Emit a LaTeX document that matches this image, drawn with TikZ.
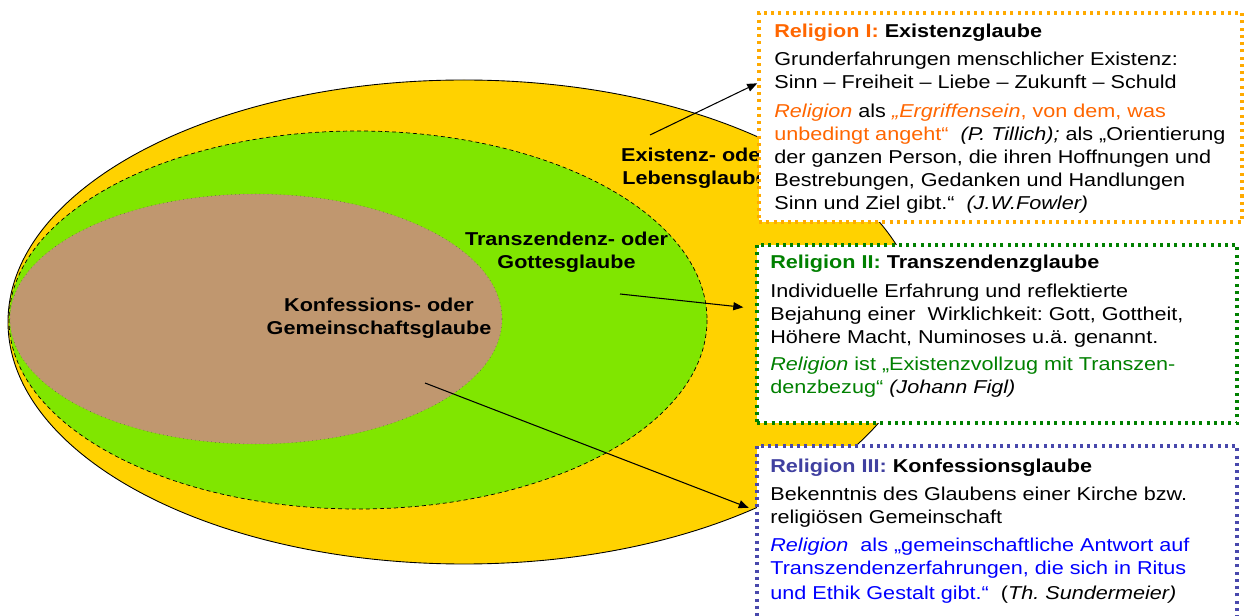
\documentclass[tikz,border=0pt]{standalone}
\usepackage{fontspec}
\setmainfont{Liberation Sans}[FakeStretch=1.16]
\usetikzlibrary{arrows.meta}
\frenchspacing

\definecolor{ringyellow}{RGB}{255,210,0}
\definecolor{ringgreen}{RGB}{128,230,0}
\definecolor{ringbrown}{RGB}{192,151,111}
\definecolor{relorange}{RGB}{255,102,0}
\definecolor{relorangeline}{RGB}{255,170,0}
\definecolor{relgreen}{RGB}{0,128,0}
\definecolor{relslate}{RGB}{64,64,160}
\definecolor{relslateline}{RGB}{72,72,172}
\definecolor{relblue}{RGB}{0,0,255}

\begin{document}
\begin{tikzpicture}[x=0.2mm, y=-0.2mm,
  every node/.style={font=\fontsize{10.6}{13.1}\selectfont, inner sep=0pt},
  ringlabel/.style={align=center, anchor=north, font=\fontsize{10.6}{13.1}\selectfont\bfseries},
  infobox/.style={rectangle, fill=white, line width=0.7mm, dash pattern=on 0.6mm off 0.85mm},
  infotext/.style={align=left, anchor=north west},
  pointer/.style={-{Triangle[length=2mm, width=1.6mm]}, line width=0.6pt}]
  \useasboundingbox (0, 0) rectangle (1251, 616);
  \clip (0, 0) rectangle (1251, 616);

  % rings
  \draw[fill=ringyellow, line width=0.5pt] (464, 322) ellipse [x radius=456, y radius=242];
  \draw[fill=ringgreen, line width=0.4pt, dash pattern=on 0.8mm off 0.6mm] (358, 320) ellipse [x radius=349, y radius=189];
  \draw[fill=ringbrown, line width=0.3pt, draw=black!70, dotted] (256, 319) ellipse [x radius=246, y radius=125];

  \node[ringlabel] (exist) at (695, 147.5) {Existenz- oder\\Lebensglaube};
  \node[ringlabel] (trans) at (566.5, 231.5) {Transzendenz- oder\\Gottesglaube};
  \node[ringlabel] (konf) at (379, 297.5) {Konfessions- oder\\Gemeinschaftsglaube};

  \coordinate (existfrom) at (650, 135);
  \coordinate (transfrom) at (620, 294);
  \coordinate (konffrom) at (425, 383);

  % boxes
  \node[infobox, draw=relorangeline, minimum width=96.6mm, minimum height=41.8mm] (box1) at (1000.5, 117.5) {};
  \node[infobox, draw=relgreen, minimum width=96mm, minimum height=35.6mm] (box2) at (997, 334) {};
  \node[infobox, draw=relslateline, minimum width=96mm, minimum height=42.8mm] (box3) at (997, 553) {};

  \draw[pointer] (existfrom) -- (box1.172);
  \draw[pointer, shorten >=2.4mm] (transfrom) -- (box2.174.8);
  \draw[pointer, shorten >=1.4mm] (konffrom) -- (box3.170.5);

  \node[infotext] (text1) at (774, 23.7) {%
    {\bfseries\textcolor{relorange}{Religion I:} Existenzglaube}\\[1mm]
    Grunderfahrungen menschlicher Existenz:\\
    Sinn – Freiheit – Liebe – Zukunft – Schuld\\[1.2mm]
    \textcolor{relorange}{\textit{Religion}} als \textcolor{relorange}{\textit{„Ergriffensein}, von dem, was}\\
    \textcolor{relorange}{unbedingt angeht“}\ \ \textit{(P. Tillich);} als „Orientierung\\
    der ganzen Person, die ihren Hoffnungen und\\
    Bestrebungen, Gedanken und Handlungen\\
    Sinn und Ziel gibt.“\ \ \textit{(J.W.Fowler)}};
  \node[infotext] (text2) at (770, 254.7) {%
    {\bfseries\textcolor{relgreen}{Religion II:} Transzendenzglaube}\\[1.2mm]
    Individuelle Erfahrung und reflektierte\\
    Bejahung einer\ \ Wirklichkeit: Gott, Gottheit,\\
    Höhere Macht, Numinoses u.ä. genannt.\\[0.8mm]
    \textcolor{relgreen}{\textit{Religion} ist „Existenzvollzug mit Transzen-}\\
    \textcolor{relgreen}{denzbezug“} \textit{(Johann Figl)}};
  \node[infotext] (text3) at (770, 458.7) {%
    {\bfseries\textcolor{relslate}{Religion III:} Konfessionsglaube}\\[1mm]
    Bekenntnis des Glaubens einer Kirche bzw.\\
    religiösen Gemeinschaft\\[1mm]
    \textcolor{relblue}{\textit{Religion}\ \ als „gemeinschaftliche Antwort auf}\\
    \textcolor{relblue}{Transzendenzerfahrungen, die sich in Ritus}\\[0.4mm]
    \textcolor{relblue}{und Ethik Gestalt gibt.“}\ \ (\textit{Th. Sundermeier)}};
\end{tikzpicture}
\end{document}
